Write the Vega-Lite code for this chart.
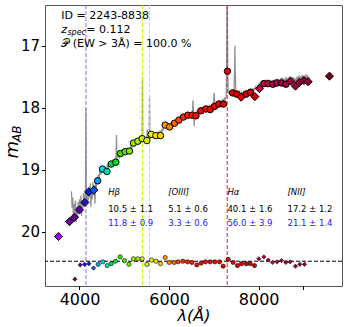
{
"$schema":"https://vega.github.io/schema/vega-lite/v6.json",
"width":297,"height":281,"autosize":{"type":"none"},
"padding":{"left":45,"top":5,"right":7,"bottom":41},
"background":"white",
"config":{"view":{"stroke":"#555","strokeWidth":1},
"axis":{"domain":false,"grid":false,"labelFont":"DejaVu Sans","labelColor":"#000","tickColor":"#000","tickSize":3.5,"labelFontSize":15,"labelPadding":2},
"axisX":{"labelFontSize":16,"titleFont":"DejaVu Sans","titleFontStyle":"italic","titleFontWeight":"normal","titleFontSize":16,"titleColor":"#000","titlePadding":0}},
"datasets":{
"spec":[
{"l":3820,"m":19.35},{"l":3835,"m":19.62},{"l":3850,"m":19.45},{"l":3865,"m":19.8},{"l":3880,"m":19.55},{"l":3895,"m":19.72},{"l":3910,"m":19.5},{"l":3925,"m":19.85},{"l":3940,"m":19.6},{"l":3955,"m":19.78},{"l":3970,"m":19.52},{"l":3985,"m":19.7},{"l":4000,"m":19.48},{"l":4015,"m":19.66},{"l":4030,"m":19.42},{"l":4045,"m":19.75},{"l":4060,"m":19.5},{"l":4075,"m":19.62},{"l":4090,"m":19.38},{"l":4105,"m":19.58},{"l":4120,"m":19.45},{"l":4135,"m":19.3},{"l":4144,"m":18.0},{"l":4152,"m":19.4},{"l":4165,"m":19.55},{"l":4180,"m":19.35},{"l":4195,"m":19.5},{"l":4210,"m":19.28},{"l":4225,"m":19.45},{"l":4240,"m":19.22},{"l":4255,"m":19.6},{"l":4270,"m":19.3},{"l":4285,"m":19.48},{"l":4300,"m":19.2},{"l":4315,"m":19.42},{"l":4330,"m":19.25},{"l":4345,"m":19.55},{"l":4360,"m":19.18},{"l":4375,"m":19.3},{"l":4390,"m":19.12},{"l":4405,"m":19.22},{"l":4420,"m":19.08},{"l":4440,"m":19.15},{"l":4460,"m":18.98},{"l":4480,"m":19.08},{"l":4500,"m":18.98},{"l":4520,"m":19.05},{"l":4540,"m":18.95},{"l":4560,"m":19.02},{"l":4580,"m":18.97},{"l":4600,"m":19.05},{"l":4620,"m":18.92},{"l":4640,"m":18.98},{"l":4660,"m":18.9},{"l":4680,"m":18.95},{"l":4700,"m":18.88},{"l":4720,"m":18.93},{"l":4740,"m":18.86},{"l":4760,"m":18.9},{"l":4780,"m":18.84},{"l":4800,"m":18.88},{"l":4815,"m":18.8},{"l":4826,"m":18.44},{"l":4837,"m":18.82},{"l":4850,"m":18.8},{"l":4870,"m":18.76},{"l":4890,"m":18.8},{"l":4910,"m":18.72},{"l":4930,"m":18.76},{"l":4950,"m":18.7},{"l":4970,"m":18.75},{"l":4990,"m":18.71},{"l":5010,"m":18.74},{"l":5030,"m":18.68},{"l":5050,"m":18.72},{"l":5070,"m":18.67},{"l":5090,"m":18.71},{"l":5110,"m":18.66},{"l":5130,"m":18.69},{"l":5150,"m":18.62},{"l":5170,"m":18.65},{"l":5190,"m":18.58},{"l":5210,"m":18.61},{"l":5230,"m":18.56},{"l":5250,"m":18.6},{"l":5270,"m":18.54},{"l":5290,"m":18.58},{"l":5310,"m":18.53},{"l":5330,"m":18.57},{"l":5350,"m":18.52},{"l":5370,"m":18.55},{"l":5390,"m":18.52},{"l":5400,"m":18.4},{"l":5406,"m":17.5},{"l":5412,"m":18.45},{"l":5425,"m":18.55},{"l":5440,"m":18.5},{"l":5460,"m":18.53},{"l":5480,"m":18.49},{"l":5500,"m":18.54},{"l":5514,"m":18.35},{"l":5525,"m":18.52},{"l":5540,"m":18.47},{"l":5555,"m":18.45},{"l":5563,"m":17.8},{"l":5571,"m":18.44},{"l":5585,"m":18.48},{"l":5600,"m":18.44},{"l":5620,"m":18.47},{"l":5640,"m":18.43},{"l":5660,"m":18.46},{"l":5680,"m":18.42},{"l":5700,"m":18.45},{"l":5720,"m":18.41},{"l":5740,"m":18.44},{"l":5760,"m":18.4},{"l":5780,"m":18.43},{"l":5800,"m":18.38},{"l":5820,"m":18.4},{"l":5840,"m":18.35},{"l":5860,"m":18.37},{"l":5880,"m":18.31},{"l":5900,"m":18.32},{"l":5920,"m":18.28},{"l":5940,"m":18.3},{"l":5960,"m":18.27},{"l":5980,"m":18.29},{"l":6000,"m":18.26},{"l":6020,"m":18.28},{"l":6040,"m":18.25},{"l":6060,"m":18.27},{"l":6080,"m":18.23},{"l":6100,"m":18.25},{"l":6120,"m":18.22},{"l":6140,"m":18.24},{"l":6160,"m":18.2},{"l":6180,"m":18.22},{"l":6200,"m":18.19},{"l":6220,"m":18.2},{"l":6240,"m":18.16},{"l":6260,"m":18.18},{"l":6280,"m":18.14},{"l":6300,"m":18.16},{"l":6320,"m":18.13},{"l":6340,"m":18.15},{"l":6360,"m":18.11},{"l":6380,"m":18.13},{"l":6400,"m":18.1},{"l":6420,"m":18.12},{"l":6440,"m":18.09},{"l":6460,"m":18.11},{"l":6480,"m":18.1},{"l":6500,"m":18.12},{"l":6520,"m":18.08},{"l":6534,"m":17.88},{"l":6546,"m":18.1},{"l":6560,"m":18.3},{"l":6572,"m":18.1},{"l":6590,"m":18.08},{"l":6610,"m":18.07},{"l":6630,"m":18.05},{"l":6650,"m":18.07},{"l":6670,"m":18.03},{"l":6690,"m":18.05},{"l":6710,"m":18.01},{"l":6730,"m":18.03},{"l":6750,"m":18.0},{"l":6770,"m":18.02},{"l":6790,"m":17.99},{"l":6810,"m":18.01},{"l":6830,"m":17.98},{"l":6850,"m":18.0},{"l":6870,"m":17.97},{"l":6890,"m":17.99},{"l":6910,"m":17.96},{"l":6930,"m":17.98},{"l":6950,"m":17.95},{"l":6970,"m":17.97},{"l":6990,"m":17.94},{"l":7006,"m":17.76},{"l":7020,"m":17.95},{"l":7040,"m":17.93},{"l":7060,"m":17.95},{"l":7080,"m":17.91},{"l":7100,"m":17.93},{"l":7120,"m":17.9},{"l":7140,"m":17.92},{"l":7160,"m":17.89},{"l":7180,"m":17.91},{"l":7200,"m":17.87},{"l":7220,"m":17.89},{"l":7240,"m":17.85},{"l":7260,"m":17.87},{"l":7275,"m":17.8},{"l":7285,"m":17.4},{"l":7292,"m":16.3},{"l":7300,"m":16.3},{"l":7308,"m":17.3},{"l":7318,"m":17.7},{"l":7330,"m":17.78},{"l":7350,"m":17.74},{"l":7370,"m":17.77},{"l":7390,"m":17.73},{"l":7410,"m":17.76},{"l":7430,"m":17.72},{"l":7450,"m":17.7},{"l":7462,"m":17.35},{"l":7469,"m":17.0},{"l":7476,"m":17.4},{"l":7490,"m":17.72},{"l":7510,"m":17.76},{"l":7530,"m":17.73},{"l":7550,"m":17.77},{"l":7570,"m":17.74},{"l":7590,"m":17.78},{"l":7610,"m":17.75},{"l":7630,"m":17.79},{"l":7650,"m":17.76},{"l":7670,"m":17.78},{"l":7690,"m":17.74},{"l":7710,"m":17.77},{"l":7730,"m":17.73},{"l":7750,"m":17.76},{"l":7770,"m":17.72},{"l":7790,"m":17.75},{"l":7810,"m":17.71},{"l":7830,"m":17.74},{"l":7850,"m":17.7},{"l":7870,"m":17.73},{"l":7890,"m":17.69},{"l":7910,"m":17.71},{"l":7930,"m":17.66},{"l":7950,"m":17.69},{"l":7970,"m":17.64},{"l":7990,"m":17.66},{"l":8010,"m":17.61},{"l":8030,"m":17.64},{"l":8050,"m":17.6},{"l":8070,"m":17.63},{"l":8090,"m":17.58},{"l":8110,"m":17.62},{"l":8130,"m":17.57},{"l":8150,"m":17.61},{"l":8170,"m":17.56},{"l":8190,"m":17.6},{"l":8210,"m":17.55},{"l":8230,"m":17.62},{"l":8250,"m":17.57},{"l":8270,"m":17.63},{"l":8290,"m":17.56},{"l":8310,"m":17.62},{"l":8330,"m":17.55},{"l":8350,"m":17.61},{"l":8370,"m":17.54},{"l":8390,"m":17.6},{"l":8410,"m":17.53},{"l":8430,"m":17.61},{"l":8450,"m":17.54},{"l":8470,"m":17.62},{"l":8490,"m":17.52},{"l":8510,"m":17.6},{"l":8530,"m":17.51},{"l":8550,"m":17.63},{"l":8570,"m":17.53},{"l":8590,"m":17.61},{"l":8610,"m":17.5},{"l":8630,"m":17.62},{"l":8650,"m":17.52},{"l":8670,"m":17.6},{"l":8690,"m":17.49},{"l":8710,"m":17.58},{"l":8730,"m":17.51},{"l":8750,"m":17.62},{"l":8770,"m":17.5},{"l":8790,"m":17.64},{"l":8810,"m":17.52},{"l":8830,"m":17.66},{"l":8850,"m":17.5},{"l":8870,"m":17.61},{"l":8890,"m":17.48},{"l":8910,"m":17.6},{"l":8930,"m":17.49},{"l":8950,"m":17.62},{"l":8970,"m":17.47},{"l":8990,"m":17.59},{"l":9010,"m":17.48},{"l":9030,"m":17.61},{"l":9050,"m":17.46},{"l":9070,"m":17.58},{"l":9090,"m":17.47},{"l":9110,"m":17.6},{"l":9130,"m":17.5}],
"phot":[
{"l":3531,"m":20.08,"s":"D"},{"l":3777,"m":19.84,"s":"D"},{"l":3888,"m":19.77,"s":"D"},{"l":4000,"m":19.65,"s":"D"},{"l":4120,"m":19.53,"s":"D"},{"l":4205,"m":19.36,"s":"D"},{"l":4321,"m":19.33,"s":"D"},{"l":4405,"m":19.18,"s":"C"},{"l":4513,"m":18.99,"s":"C"},{"l":4612,"m":19.03,"s":"C"},{"l":4708,"m":18.91,"s":"C"},{"l":4812,"m":18.88,"s":"C"},{"l":4915,"m":18.74,"s":"C"},{"l":5020,"m":18.71,"s":"C"},{"l":5116,"m":18.7,"s":"C"},{"l":5205,"m":18.57,"s":"C"},{"l":5303,"m":18.54,"s":"C"},{"l":5399,"m":18.5,"s":"C"},{"l":5504,"m":18.53,"s":"C"},{"l":5600,"m":18.43,"s":"C"},{"l":5705,"m":18.45,"s":"C"},{"l":5808,"m":18.45,"s":"C"},{"l":5913,"m":18.28,"s":"C"},{"l":6010,"m":18.31,"s":"C"},{"l":6121,"m":18.25,"s":"C"},{"l":6219,"m":18.2,"s":"C"},{"l":6321,"m":18.15,"s":"C"},{"l":6419,"m":18.12,"s":"C"},{"l":6515,"m":18.12,"s":"C"},{"l":6600,"m":18.13,"s":"C"},{"l":6710,"m":18.05,"s":"C"},{"l":6821,"m":18.02,"s":"C"},{"l":6917,"m":18.03,"s":"C"},{"l":7013,"m":17.98,"s":"C"},{"l":7111,"m":17.94,"s":"C"},{"l":7214,"m":17.94,"s":"C"},{"l":7303,"m":17.41,"s":"C"},{"l":7420,"m":17.76,"s":"C"},{"l":7510,"m":17.78,"s":"C"},{"l":7609,"m":17.83,"s":"D"},{"l":7717,"m":17.78,"s":"C"},{"l":7817,"m":17.75,"s":"C"},{"l":7915,"m":17.82,"s":"D"},{"l":8018,"m":17.69,"s":"D"},{"l":8116,"m":17.61,"s":"C"},{"l":8212,"m":17.61,"s":"C"},{"l":8317,"m":17.62,"s":"C"},{"l":8406,"m":17.6,"s":"C"},{"l":8509,"m":17.6,"s":"C"},{"l":8607,"m":17.62,"s":"C"},{"l":8710,"m":17.57,"s":"D"},{"l":8821,"m":17.65,"s":"D"},{"l":8910,"m":17.59,"s":"D"},{"l":9009,"m":17.56,"s":"D"},{"l":9104,"m":17.58,"s":"D"},{"l":9580,"m":17.49,"s":"D"}],
"res":[
{"l":3897,"m":20.77,"s":"D"},{"l":4016,"m":20.54,"s":"D"},{"l":4112,"m":20.53,"s":"D"},{"l":4210,"m":20.52,"s":"D"},{"l":4313,"m":20.59,"s":"D"},{"l":4417,"m":20.53,"s":"C"},{"l":4522,"m":20.49,"s":"C"},{"l":4618,"m":20.55,"s":"C"},{"l":4708,"m":20.52,"s":"C"},{"l":4804,"m":20.48,"s":"C"},{"l":4908,"m":20.41,"s":"C"},{"l":5004,"m":20.47,"s":"C"},{"l":5103,"m":20.53,"s":"C"},{"l":5205,"m":20.44,"s":"C"},{"l":5303,"m":20.44,"s":"C"},{"l":5399,"m":20.44,"s":"C"},{"l":5504,"m":20.53,"s":"C"},{"l":5607,"m":20.46,"s":"C"},{"l":5705,"m":20.48,"s":"C"},{"l":5808,"m":20.52,"s":"C"},{"l":5913,"m":20.42,"s":"C"},{"l":6002,"m":20.5,"s":"C"},{"l":6114,"m":20.5,"s":"C"},{"l":6203,"m":20.49,"s":"C"},{"l":6308,"m":20.48,"s":"C"},{"l":6411,"m":20.49,"s":"C"},{"l":6509,"m":20.5,"s":"C"},{"l":6620,"m":20.54,"s":"C"},{"l":6716,"m":20.51,"s":"C"},{"l":6812,"m":20.49,"s":"C"},{"l":6917,"m":20.49,"s":"C"},{"l":7022,"m":20.49,"s":"C"},{"l":7125,"m":20.49,"s":"C"},{"l":7207,"m":20.56,"s":"C"},{"l":7319,"m":20.45,"s":"C"},{"l":7431,"m":20.5,"s":"C"},{"l":7527,"m":20.55,"s":"C"},{"l":7616,"m":20.52,"s":"C"},{"l":7721,"m":20.52,"s":"C"},{"l":7810,"m":20.52,"s":"C"},{"l":7906,"m":20.55,"s":"C"},{"l":8004,"m":20.44,"s":"D"},{"l":8116,"m":20.41,"s":"D"},{"l":8212,"m":20.46,"s":"D"},{"l":8308,"m":20.5,"s":"D"},{"l":8413,"m":20.49,"s":"D"},{"l":8509,"m":20.47,"s":"D"},{"l":8607,"m":20.5,"s":"D"},{"l":8703,"m":20.49,"s":"D"},{"l":8821,"m":20.56,"s":"D"},{"l":8919,"m":20.53,"s":"D"},{"l":9022,"m":20.53,"s":"D"}],
"lines":[{"l":4144,"ln":"OII"},{"l":5406,"ln":"Hb"},{"l":5563,"ln":"OIII"},{"l":7298,"ln":"Ha"}],
"zero":[{"m":20.48}],
"txt":[
{"l":3592,"m":16.52,"t":"ID = 2243-8838","k":"top"},
{"l":3592,"m":16.74,"t":"z","k":"zi"},
{"l":3730,"m":16.785,"t":"spec","k":"sub"},
{"l":4150,"m":16.74,"t":"= 0.112","k":"top"},
{"l":3592,"m":16.965,"t":"𝒫 (EW > 3Å) = 100.0 %","k":"top"},
{"l":4641,"m":19.36,"t":"Hβ","k":"lab"},{"l":5981,"m":19.36,"t":"[OIII]","k":"lab"},{"l":7303,"m":19.36,"t":"Hα","k":"lab"},{"l":8643,"m":19.36,"t":"[NII]","k":"lab"},
{"l":4641,"m":19.64,"t":"10.5 ± 1.1","k":"v1"},{"l":5981,"m":19.64,"t":"5.1 ± 0.6","k":"v1"},{"l":7303,"m":19.64,"t":"40.1 ± 1.6","k":"v1"},{"l":8643,"m":19.64,"t":"17.2 ± 1.2","k":"v1"},
{"l":4641,"m":19.855,"t":"11.8 ± 0.9","k":"v2"},{"l":5981,"m":19.855,"t":"3.3 ± 0.6","k":"v2"},{"l":7303,"m":19.855,"t":"56.0 ± 3.9","k":"v2"},{"l":8643,"m":19.855,"t":"21.1 ± 1.4","k":"v2"},
{"l":2520,"m":18.68,"t":"m","k":"ym"},{"l":2600,"m":18.42,"t":"AB","k":"yab"}]
},
"layer":[
{"data":{"name":"spec"},"mark":{"type":"line","color":"#808080","strokeWidth":1.3,"opacity":0.85,"clip":true},
 "encoding":{
 "x":{"field":"l","type":"quantitative","scale":{"domain":[3230,9860],"nice":false,"zero":false},"axis":{"values":[4000,6000,8000,9000],"format":"d","labelExpr":"datum.value==9000?'':datum.label","title":"λ(Å)"}},
 "y":{"field":"m","type":"quantitative","scale":{"domain":[16.34,20.88],"reverse":true,"nice":false,"zero":false},"axis":{"values":[17,18,19,20],"format":"d","title":null}}}},
{"data":{"name":"lines"},"mark":{"type":"rule","strokeWidth":1,"strokeDash":[4,2]},
 "encoding":{"x":{"field":"l","type":"quantitative"},"color":{"field":"ln","type":"nominal","scale":{"domain":["OII","Hb","OIII","Ha"],"range":["#8c6cff","#c4f000","#ecec00","#f02020"]},"legend":null}}},
{"data":{"name":"zero"},"mark":{"type":"rule","strokeWidth":1,"strokeDash":[4,2],"color":"#000"},
 "encoding":{"y":{"field":"m","type":"quantitative"}}},
{"data":{"name":"phot"},"mark":{"type":"point","filled":true,"stroke":"#000","strokeWidth":1,"opacity":1},
 "encoding":{"x":{"field":"l","type":"quantitative"},"y":{"field":"m","type":"quantitative"},
 "shape":{"field":"s","type":"nominal","scale":{"domain":["C","D"],"range":["circle","diamond"]},"legend":null},
 "size":{"field":"s","type":"nominal","scale":{"domain":["C","D"],"range":[42,66]},"legend":null},
 "fill":{"field":"l","type":"quantitative","legend":null,"scale":{"interpolate":"rgb","domain":[3530,3780,3900,4000,4120,4210,4320,4410,4510,4610,4710,4810,4920,5120,5300,5500,5600,5810,5910,6100,6300,6500,7300,7900,8020,8300,8700,9100,9580],"range":["#a000e0","#6a0aa0","#5a008a","#5c00b0","#3010c0","#0020e0","#0058ff","#00a8f0","#00d8e0","#00e0a8","#00d850","#10e020","#40e000","#80e800","#b0f000","#e0f000","#f0f000","#ffd000","#ff9800","#ff6800","#ff3000","#ff1000","#e80000","#d00000","#c00040","#b01050","#a00040","#900030","#700018"]}}}},
{"data":{"name":"res"},"mark":{"type":"point","filled":true,"stroke":"#000","strokeWidth":0.6,"opacity":1,"size":18},
 "encoding":{"x":{"field":"l","type":"quantitative"},"y":{"field":"m","type":"quantitative"},"shape":{"field":"s","type":"nominal","legend":null},"fill":{"field":"l","type":"quantitative","legend":null}}},
{"data":{"name":"txt"},"transform":[{"filter":"datum.k=='top'"}],"mark":{"type":"text","font":"DejaVu Sans","fontSize":11,"align":"left","baseline":"middle","color":"#000"},"encoding":{"x":{"field":"l","type":"quantitative"},"y":{"field":"m","type":"quantitative"},"text":{"field":"t"}}},
{"data":{"name":"txt"},"transform":[{"filter":"datum.k=='zi'"}],"mark":{"type":"text","font":"DejaVu Sans","fontSize":11,"fontStyle":"italic","align":"left","baseline":"middle","color":"#000"},"encoding":{"x":{"field":"l","type":"quantitative"},"y":{"field":"m","type":"quantitative"},"text":{"field":"t"}}},
{"data":{"name":"txt"},"transform":[{"filter":"datum.k=='sub'"}],"mark":{"type":"text","font":"DejaVu Sans","fontSize":8,"fontStyle":"italic","align":"left","baseline":"middle","color":"#000"},"encoding":{"x":{"field":"l","type":"quantitative"},"y":{"field":"m","type":"quantitative"},"text":{"field":"t"}}},
{"data":{"name":"txt"},"transform":[{"filter":"datum.k=='lab'"}],"mark":{"type":"text","font":"DejaVu Sans","fontSize":8.5,"fontStyle":"italic","align":"left","baseline":"middle","color":"#000"},"encoding":{"x":{"field":"l","type":"quantitative"},"y":{"field":"m","type":"quantitative"},"text":{"field":"t"}}},
{"data":{"name":"txt"},"transform":[{"filter":"datum.k=='v1'"}],"mark":{"type":"text","font":"DejaVu Sans","fontSize":8.5,"align":"left","baseline":"middle","color":"#000"},"encoding":{"x":{"field":"l","type":"quantitative"},"y":{"field":"m","type":"quantitative"},"text":{"field":"t"}}},
{"data":{"name":"txt"},"transform":[{"filter":"datum.k=='v2'"}],"mark":{"type":"text","font":"DejaVu Sans","fontSize":8.5,"align":"left","baseline":"middle","color":"#2020ff"},"encoding":{"x":{"field":"l","type":"quantitative"},"y":{"field":"m","type":"quantitative"},"text":{"field":"t"}}},
{"data":{"name":"txt"},"transform":[{"filter":"datum.k=='ym'"}],"mark":{"type":"text","font":"DejaVu Sans","fontSize":18,"fontStyle":"italic","align":"center","baseline":"middle","angle":270,"color":"#000"},"encoding":{"x":{"field":"l","type":"quantitative"},"y":{"field":"m","type":"quantitative"},"text":{"field":"t"}}},
{"data":{"name":"txt"},"transform":[{"filter":"datum.k=='yab'"}],"mark":{"type":"text","font":"DejaVu Sans","fontSize":12,"fontStyle":"italic","align":"center","baseline":"middle","angle":270,"color":"#000"},"encoding":{"x":{"field":"l","type":"quantitative"},"y":{"field":"m","type":"quantitative"},"text":{"field":"t"}}}
]
}
